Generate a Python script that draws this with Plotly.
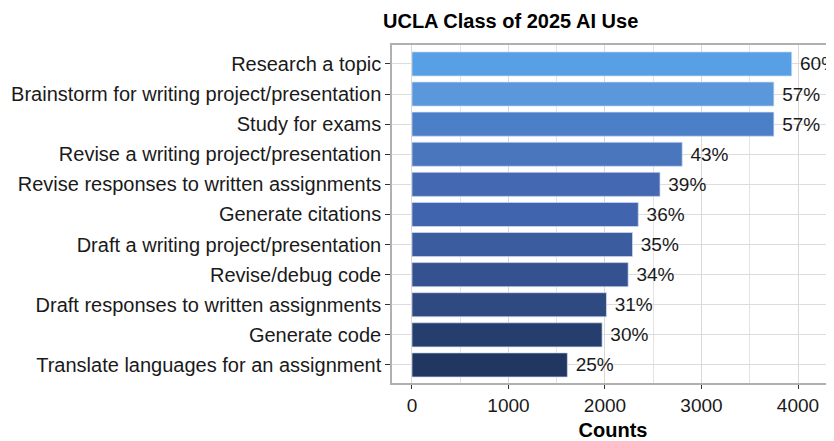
import plotly.graph_objects as go

categories = [
    "Research a topic",
    "Brainstorm for writing project/presentation",
    "Study for exams",
    "Revise a writing project/presentation",
    "Revise responses to written assignments",
    "Generate citations",
    "Draft a writing project/presentation",
    "Revise/debug code",
    "Draft responses to written assignments",
    "Generate code",
    "Translate languages for an assignment",
]
counts = [3935, 3750, 3750, 2800, 2570, 2345, 2285, 2240, 2015, 1970, 1610]
percents = ["60%", "57%", "57%", "43%", "39%", "36%", "35%", "34%", "31%", "30%", "25%"]
bar_colors = [
    "#58A0E6", "#5A98DB", "#4B7FC8", "#4A76BE", "#4469B2", "#4064AD",
    "#3B5C9E", "#345190", "#2F4A80", "#263E6D", "#213660",
]

FONT = "Arial, Liberation Sans, Helvetica, sans-serif"

fig = go.Figure(
    go.Bar(
        x=counts,
        y=categories,
        orientation="h",
        width=0.8,
        marker=dict(color=bar_colors, line=dict(color="rgba(210,220,240,0.7)", width=1)),
        text=[" " + p for p in percents],
        textposition="outside",
        constraintext="none",
        cliponaxis=False,
        textfont=dict(family=FONT, size=19, color="#1a1a1a"),
        hoverinfo="skip",
    )
)

# page body has an 8px margin, so the figure starts at (8, 8) in the window
W, H = 826, 433
ml, mr, mt, mb = 384, 0, 37, 58
pw = W - ml - mr

fig.update_layout(
    width=W,
    height=H,
    margin=dict(l=ml, r=mr, t=mt, b=mb),
    paper_bgcolor="white",
    plot_bgcolor="white",
    showlegend=False,
    font=dict(family=FONT, size=19, color="#1a1a1a"),
    title=dict(
        text="UCLA Class of 2025 AI Use",
        font=dict(family=FONT, size=20, color="#000000", weight="bold"),
        x=375 / W,
        xref="container",
        xanchor="left",
        y=1 - 13 / H,
        yref="container",
        yanchor="middle",
    ),
    xaxis=dict(
        range=[-207, 4373],
        tickvals=[0, 1000, 2000, 3000, 4000],
        ticks="outside",
        ticklen=4,
        tickcolor="#333333",
        tickfont=dict(size=19, color="#1a1a1a"),
        showgrid=True,
        gridcolor="#d9d9d9",
        gridwidth=1,
        minor=dict(dtick=500, tick0=0, showgrid=True, gridcolor="#e3e3e3", gridwidth=1),
        zeroline=False,
        showline=True,
        linecolor="#b0b0b0",
        linewidth=1.5,
        mirror=True,
        title=dict(text="Counts", font=dict(size=20, color="#000000", weight="bold"), standoff=11),
    ),
    yaxis=dict(
        categoryorder="array",
        categoryarray=categories,
        range=[10.6, -0.63],
        ticks="outside",
        ticklen=5,
        tickcolor="#333333",
        tickfont=dict(size=20, color="#1a1a1a"),
        showgrid=True,
        gridcolor="#dcdcdc",
        gridwidth=1,
        showline=True,
        linecolor="#b0b0b0",
        linewidth=1.5,
    ),
)

fig.write_html("out.html")
